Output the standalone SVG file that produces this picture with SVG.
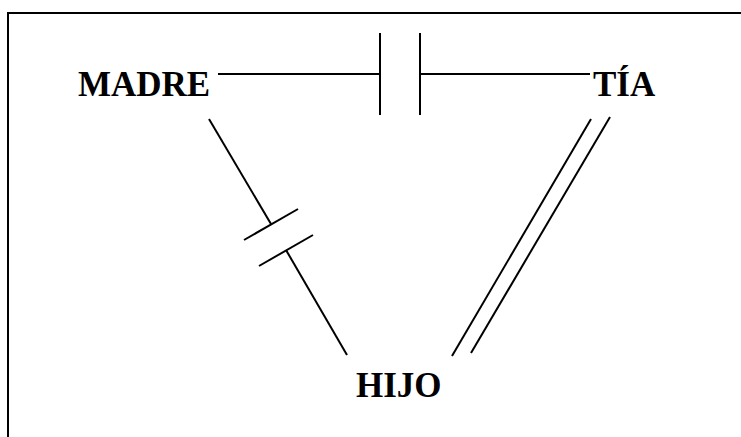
<svg xmlns="http://www.w3.org/2000/svg" width="741" height="437" viewBox="0 0 741 437">
<style>
.lbl{font-family:"Liberation Serif","Times New Roman",serif;font-weight:bold;font-size:35px;fill:#000}
.ln{stroke:#000;stroke-width:2;fill:none}
</style>
<rect x="0" y="0" width="741" height="437" fill="#fff"/>
<rect x="8" y="13" width="760" height="460" fill="none" stroke="#000" stroke-width="2"/>
<g id="connectors">
<line class="ln" x1="218" y1="74" x2="380" y2="74"/>
<line class="ln" x1="380" y1="33" x2="380" y2="115"/>
<line class="ln" x1="420" y1="33" x2="420" y2="115"/>
<line class="ln" x1="420" y1="74" x2="590" y2="74"/>
<line class="ln" x1="209" y1="119" x2="271" y2="224"/>
<line class="ln" x1="244" y1="240" x2="298" y2="209"/>
<line class="ln" x1="259" y1="266" x2="313" y2="235"/>
<line class="ln" x1="286" y1="250" x2="347" y2="355"/>
<line class="ln" x1="591" y1="119" x2="452" y2="356"/>
<line class="ln" x1="610" y1="117" x2="471" y2="353"/>
</g>
<g id="madre"><text class="lbl" x="78" y="96">MADRE</text></g>
<g id="tia"><text class="lbl" x="593" y="96">TÍA</text></g>
<g id="hijo"><text class="lbl" x="356" y="397">HIJO</text></g>
</svg>
